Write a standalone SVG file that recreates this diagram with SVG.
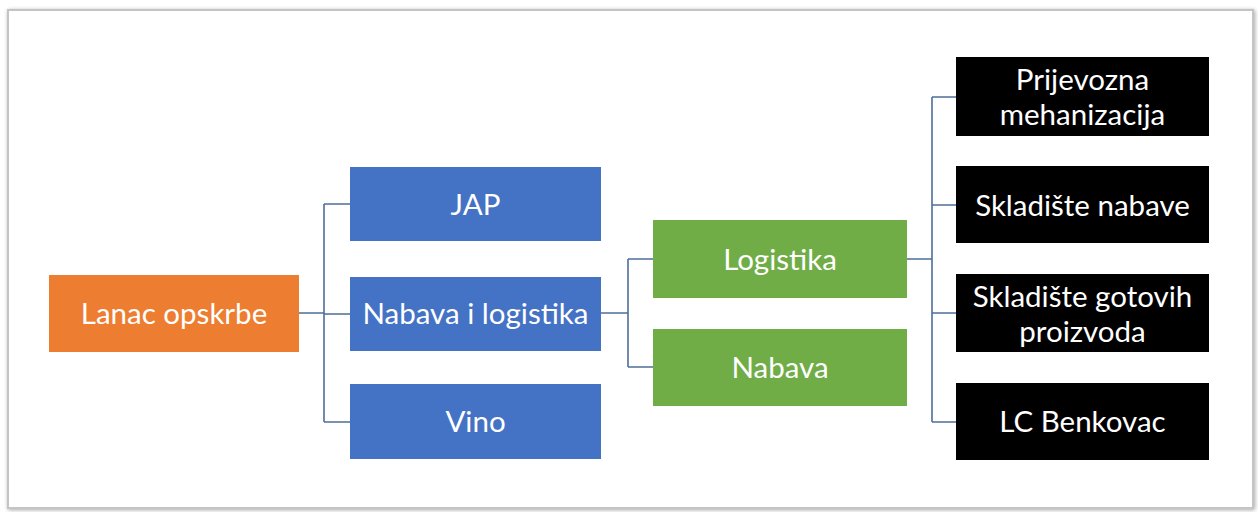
<svg xmlns="http://www.w3.org/2000/svg" width="1258" height="512" viewBox="0 0 1258 512">
  <defs>
    <filter id="shadow" x="-5%" y="-5%" width="110%" height="110%">
      <feGaussianBlur in="SourceAlpha" stdDeviation="2"/>
      <feOffset dx="1" dy="1"/>
      <feComponentTransfer><feFuncA type="linear" slope="0.35"/></feComponentTransfer>
      <feMerge><feMergeNode/><feMergeNode in="SourceGraphic"/></feMerge>
    </filter>
  </defs>
  <style>
    .lbl { font-family: Lato, "Open Sans", "Liberation Sans", sans-serif; font-size: 29.5px; fill: #ffffff; text-anchor: middle; dominant-baseline: central; }
    .orange { fill: #ED7D31; }
    .blue { fill: #4472C4; }
    .green { fill: #70AD47; }
    .black { fill: #000000; }
    .conn { fill: none; stroke: #4E6D99; stroke-width: 1.6; }
  </style>

  <!-- page frame -->
  <rect x="0" y="0" width="1258" height="512" fill="#ffffff"/>
  <rect x="8" y="10" width="1245" height="498" fill="#ffffff" stroke="#c4c4c4" stroke-width="2" filter="url(#shadow)"/>

  <!-- connectors -->
  <g id="connectors">
    <path class="conn" d="M299,313 H324 M324,204 V422 M324,204 H350 M324,314 H350 M324,422 H350"/>
    <path class="conn" d="M601,313 H628 M628,259 V367 M628,259 H653 M628,367 H653"/>
    <path class="conn" d="M907,259 H932 M932,97 V422 M932,97 H956 M932,205 H956 M932,313 H956 M932,422 H956"/>
  </g>

  <g id="lanac-opskrbe">
    <rect class="orange" x="49" y="275" width="250" height="77"/>
    <text class="lbl" x="174" y="312">Lanac opskrbe</text>
  </g>

  <g id="jap">
    <rect class="blue" x="350" y="167" width="251" height="74"/>
    <text class="lbl" x="475.5" y="203">JAP</text>
  </g>
  <g id="nabava-i-logistika">
    <rect class="blue" x="350" y="277" width="251" height="74"/>
    <text class="lbl" x="475.5" y="312">Nabava i logistika</text>
  </g>
  <g id="vino">
    <rect class="blue" x="350" y="384" width="251" height="75"/>
    <text class="lbl" x="475.5" y="420">Vino</text>
  </g>

  <g id="logistika">
    <rect class="green" x="653" y="220" width="254" height="78"/>
    <text class="lbl" x="780" y="258">Logistika</text>
  </g>
  <g id="nabava">
    <rect class="green" x="653" y="329" width="254" height="77"/>
    <text class="lbl" x="780" y="366">Nabava</text>
  </g>

  <g id="prijevozna-mehanizacija">
    <rect class="black" x="956" y="57" width="253" height="79"/>
    <text class="lbl" x="1082.5" y="78">Prijevozna</text>
    <text class="lbl" x="1082.5" y="113">mehanizacija</text>
  </g>
  <g id="skladiste-nabave">
    <rect class="black" x="956" y="166" width="253" height="77"/>
    <text class="lbl" x="1082.5" y="204">Skladište nabave</text>
  </g>
  <g id="skladiste-gotovih-proizvoda">
    <rect class="black" x="956" y="274" width="253" height="78"/>
    <text class="lbl" x="1082.5" y="295">Skladište gotovih</text>
    <text class="lbl" x="1082.5" y="330">proizvoda</text>
  </g>
  <g id="lc-benkovac">
    <rect class="black" x="956" y="383" width="253" height="77"/>
    <text class="lbl" x="1082.5" y="420">LC Benkovac</text>
  </g>
</svg>
